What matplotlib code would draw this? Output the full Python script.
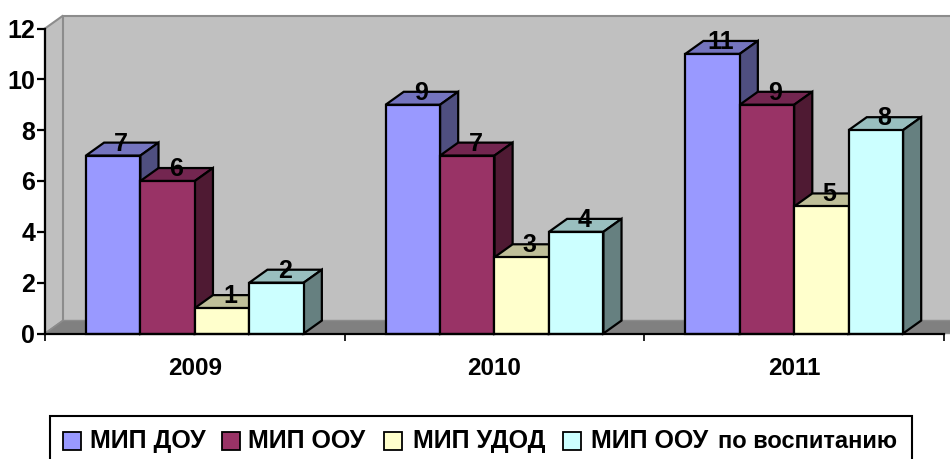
import numpy as np
import matplotlib
matplotlib.use('Agg')
import matplotlib.pyplot as plt
from matplotlib.patches import Polygon, Rectangle

plt.rcParams['font.family'] = ['Liberation Sans', 'DejaVu Sans']
plt.rcParams['font.weight'] = 'bold'

years = ['2009', '2010', '2011']
mip_dou = [7, 9, 11]
mip_oou = [6, 7, 9]
mip_udod = [1, 3, 5]
mip_oou_vosp = [2, 4, 8]

series = [mip_dou, mip_oou, mip_udod, mip_oou_vosp]
labels = ['МИП ДОУ', 'МИП ООУ', 'МИП УДОД', 'МИП ООУ']
front = ['#9999FF', '#993366', '#FFFFCC', '#CCFFFF']
top = ['#7474BF', '#732650', '#BFBF99', '#99BFBF']
side = ['#4F4F80', '#4F1A33', '#808066', '#668080']

W, H = 950, 459
DX, DY = 0.0605, 0.51   # 3d depth in data units
BAR_W = 0.1817

fig = plt.figure(figsize=(W / 100, H / 100), dpi=100)
ax = fig.add_axes([45 / W, 1 - 333.5 / H, 899 / W, 305 / H])
ax.set_xlim(0, 3)
ax.set_ylim(0, 12)
ax.patch.set_visible(False)

# walls and floor
ax.add_patch(Polygon([(0, 0), (DX, DY), (DX, 12 + DY), (0, 12)], closed=True,
                     fc='#C0C0C0', ec='#8C8C8C', lw=1.5, clip_on=False, zorder=1))
ax.add_patch(Polygon([(DX, DY), (3.1, DY), (3.1, 12 + DY), (DX, 12 + DY)], closed=True,
                     fc='#C0C0C0', ec='#8C8C8C', lw=1.5, clip_on=False, zorder=1))
ax.add_patch(Polygon([(0, 0), (DX, DY), (3.1, DY), (3.1, 0)], closed=True,
                     fc='#808080', ec='#8C8C8C', lw=1, clip_on=False, zorder=1))

# near bars are drawn last so they overlap the side faces
for c in range(len(years)):
    for s in range(len(series)):
        v = series[s][c]
        x0 = c + 0.5 + (s - 2) * BAR_W
        z = 3 + s + c * 10
        ax.bar(x0, v, width=BAR_W, align='edge', color=front[s], edgecolor='black',
               lw=1.6, zorder=z + 0.2, clip_on=False)
        ax.add_patch(Polygon([(x0, v), (x0 + DX, v + DY), (x0 + BAR_W + DX, v + DY), (x0 + BAR_W, v)],
                             closed=True, fc=top[s], ec='black', lw=1.6, clip_on=False, zorder=z))
        ax.add_patch(Polygon([(x0 + BAR_W, 0), (x0 + BAR_W + DX, DY), (x0 + BAR_W + DX, v + DY), (x0 + BAR_W, v)],
                             closed=True, fc=side[s], ec='black', lw=1.6, clip_on=False, zorder=z))
        ax.text(x0 + BAR_W / 2 + DX / 2 - 0.003, v + 0.0, str(v), ha='center', va='bottom',
                fontsize=18, color='black', zorder=100)

for spine in ['top', 'right']:
    ax.spines[spine].set_visible(False)
for spine in ['left', 'bottom']:
    ax.spines[spine].set_linewidth(1.6)
    ax.spines[spine].set_zorder(50)

ax.set_yticks(np.arange(0, 13, 2))
ax.set_xticks(np.arange(0, 4))
ax.set_xticklabels([])
ax.tick_params(axis='y', labelsize=18, length=6, width=1.6, pad=1, direction='out')
ax.tick_params(axis='x', length=5, width=1.2)
for i, y in enumerate(years):
    ax.text(i + 0.5, -1.36, y, ha='center', va='center', fontsize=17.5)

# legend, bottom of the box runs off the picture
fig.add_artist(Rectangle((50 / W, -0.02), 862 / W, 1 - 416 / H + 0.02, transform=fig.transFigure,
                         fc='white', ec='black', lw=1.5))
box_x = [63, 222, 384, 563]
text_x = [90, 248, 413, 591]
for i in range(4):
    fig.add_artist(Rectangle((box_x[i] / W, 1 - 450 / H), 18 / W, 18 / H, transform=fig.transFigure,
                             fc=front[i], ec='black', lw=1.3))
    fig.text(text_x[i] / W, 1 - 441 / H, labels[i], ha='left', va='center', fontsize=18)
fig.text(718 / W, 1 - 441 / H, 'по воспитанию', ha='left', va='center', fontsize=17)

fig.savefig('out.png', dpi=100)
